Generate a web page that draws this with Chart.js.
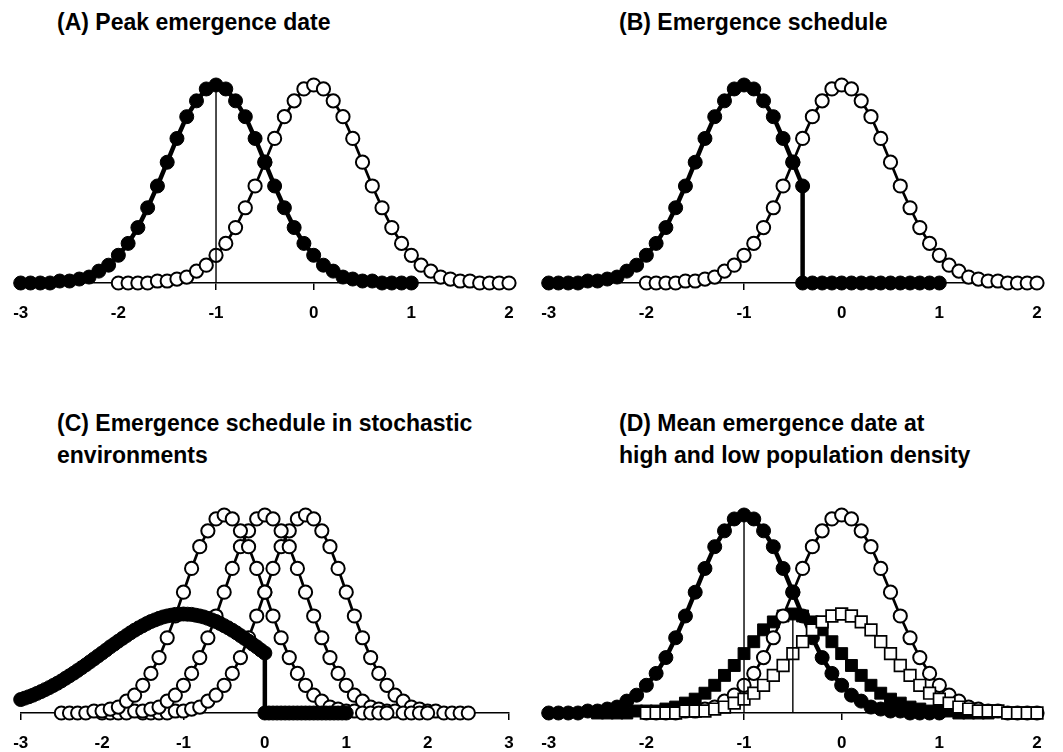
<!DOCTYPE html>
<html lang="en">
<head>
<meta charset="UTF-8">
<title>Emergence dates</title>
<script src="https://cdn.jsdelivr.net/npm/chart.js@4.4.1/dist/chart.umd.min.js"></script>
<style>
  body { margin: 0; background: #fff; font-family: "Liberation Sans", Arial, sans-serif; }
  #fig { position: relative; width: 1063px; height: 752px; overflow: hidden; }
  .panel { position: absolute; }
  .title { position: absolute; font-weight: bold; font-size: 23px; line-height: 31.5px; color: #000; white-space: nowrap; }
</style>
</head>
<body>
<div id="fig">
  <div class="title" style="left:57px; top:7px;">(A) Peak emergence date</div>
  <div class="title" style="left:619px; top:7px;">(B) Emergence schedule</div>
  <div class="title" style="left:57px; top:408px;">(C) Emergence schedule in stochastic<br>environments</div>
  <div class="title" style="left:619px; top:408px;">(D) Mean emergence date at<br>high and low population density</div>
  <canvas id="chartA" class="panel" width="531" height="320" style="left:0; top:40px;"></canvas>
  <canvas id="chartB" class="panel" width="531" height="320" style="left:528px; top:40px;"></canvas>
  <canvas id="chartC" class="panel" width="531" height="320" style="left:0; top:470px;"></canvas>
  <canvas id="chartD" class="panel" width="531" height="320" style="left:528px; top:470px;"></canvas>
</div>
<script>
// emergence day (relative), 0.1 steps
const daysM3to1 = [-3, -2.9, -2.8, -2.7, -2.6, -2.5, -2.4, -2.3, -2.2, -2.1, -2, -1.9, -1.8, -1.7, -1.6, -1.5, -1.4, -1.3, -1.2, -1.1,
                   -1, -0.9, -0.8, -0.7, -0.6, -0.5, -0.4, -0.3, -0.2, -0.1, 0, 0.1, 0.2, 0.3, 0.4, 0.5, 0.6, 0.7, 0.8, 0.9, 1];
const daysM2to2 = [-2, -1.9, -1.8, -1.7, -1.6, -1.5, -1.4, -1.3, -1.2, -1.1, -1, -0.9, -0.8, -0.7, -0.6, -0.5, -0.4, -0.3, -0.2, -0.1,
                   0, 0.1, 0.2, 0.3, 0.4, 0.5, 0.6, 0.7, 0.8, 0.9, 1, 1.1, 1.2, 1.3, 1.4, 1.5, 1.6, 1.7, 1.8, 1.9, 2];
const daysM25to15 = [-2.5, -2.4, -2.3, -2.2, -2.1, -2, -1.9, -1.8, -1.7, -1.6, -1.5, -1.4, -1.3, -1.2, -1.1, -1, -0.9, -0.8, -0.7, -0.6,
                     -0.5, -0.4, -0.3, -0.2, -0.1, 0, 0.1, 0.2, 0.3, 0.4, 0.5, 0.6, 0.7, 0.8, 0.9, 1, 1.1, 1.2, 1.3, 1.4, 1.5];
const daysM15to25 = [-1.5, -1.4, -1.3, -1.2, -1.1, -1, -0.9, -0.8, -0.7, -0.6, -0.5, -0.4, -0.3, -0.2, -0.1, 0, 0.1, 0.2, 0.3, 0.4,
                     0.5, 0.6, 0.7, 0.8, 0.9, 1, 1.1, 1.2, 1.3, 1.4, 1.5, 1.6, 1.7, 1.8, 1.9, 2, 2.1, 2.2, 2.3, 2.4, 2.5];
// schedule cut at -0.4 (panel B): the cut day appears twice
const daysCutB = [-3, -2.9, -2.8, -2.7, -2.6, -2.5, -2.4, -2.3, -2.2, -2.1, -2, -1.9, -1.8, -1.7, -1.6, -1.5, -1.4, -1.3, -1.2, -1.1,
                  -1, -0.9, -0.8, -0.7, -0.6, -0.5, -0.4,
                  -0.4, -0.3, -0.2, -0.1, 0, 0.1, 0.2, 0.3, 0.4, 0.5, 0.6, 0.7, 0.8, 0.9, 1];
// panel C's wide schedule is sampled at 0.05, cut at 0
const daysCutC = [-3, -2.95, -2.9, -2.85, -2.8, -2.75, -2.7, -2.65, -2.6, -2.55, -2.5, -2.45, -2.4, -2.35, -2.3, -2.25, -2.2, -2.15, -2.1, -2.05,
                  -2, -1.95, -1.9, -1.85, -1.8, -1.75, -1.7, -1.65, -1.6, -1.55, -1.5, -1.45, -1.4, -1.35, -1.3, -1.25, -1.2, -1.15, -1.1, -1.05,
                  -1, -0.95, -0.9, -0.85, -0.8, -0.75, -0.7, -0.65, -0.6, -0.55, -0.5, -0.45, -0.4, -0.35, -0.3, -0.25, -0.2, -0.15, -0.1, -0.05, 0,
                  0, 0.05, 0.1, 0.15, 0.2, 0.25, 0.3, 0.35, 0.4, 0.45, 0.5, 0.55, 0.6, 0.65, 0.7, 0.75, 0.8, 0.85, 0.9, 0.95, 1];

// relative emergence (peak = 1)
const emergeEarly = [0, 0, 0, 0, 0.01, 0.01, 0.02, 0.03, 0.06, 0.09, 0.14, 0.20, 0.28, 0.38, 0.49, 0.61, 0.73, 0.84, 0.92, 0.98,
                     1.00, 0.98, 0.92, 0.84, 0.73, 0.61, 0.49, 0.38, 0.28, 0.20, 0.14, 0.09, 0.06, 0.03, 0.02, 0.01, 0.01, 0, 0, 0, 0];
const emergeLate  = [0, 0, 0, 0, 0.01, 0.01, 0.02, 0.03, 0.06, 0.09, 0.14, 0.20, 0.28, 0.38, 0.49, 0.61, 0.73, 0.84, 0.92, 0.98,
                     1.00, 0.98, 0.92, 0.84, 0.73, 0.61, 0.49, 0.38, 0.28, 0.20, 0.14, 0.09, 0.06, 0.03, 0.02, 0.01, 0.01, 0, 0, 0, 0];
const emergeCutB  = [0, 0, 0, 0, 0.01, 0.01, 0.02, 0.03, 0.06, 0.09, 0.14, 0.20, 0.28, 0.38, 0.49, 0.61, 0.73, 0.84, 0.92, 0.98,
                     1.00, 0.98, 0.92, 0.84, 0.73, 0.61, 0.49,
                     0, 0, 0, 0, 0, 0, 0, 0, 0, 0, 0, 0, 0, 0, 0];
const emergeCutC  = [0.068, 0.075, 0.082, 0.090, 0.099, 0.108, 0.118, 0.128, 0.139, 0.150, 0.162, 0.175, 0.188, 0.201, 0.215, 0.229, 0.243, 0.258, 0.273, 0.288,
                     0.303, 0.318, 0.334, 0.348, 0.363, 0.377, 0.391, 0.405, 0.418, 0.430, 0.441, 0.452, 0.462, 0.470, 0.478, 0.485, 0.490, 0.494, 0.498, 0.499,
                     0.500, 0.499, 0.498, 0.494, 0.490, 0.485, 0.478, 0.470, 0.462, 0.452, 0.441, 0.430, 0.418, 0.405, 0.391, 0.377, 0.363, 0.348, 0.334, 0.318, 0.303,
                     0, 0, 0, 0, 0, 0, 0, 0, 0, 0, 0, 0, 0, 0, 0, 0, 0, 0, 0, 0, 0];
const emergeHighDensity = [0, 0, 0, 0, 0.01, 0.01, 0.01, 0.02, 0.03, 0.05, 0.07, 0.10, 0.14, 0.19, 0.24, 0.30, 0.36, 0.42, 0.46, 0.49,
                           0.50, 0.49, 0.46, 0.42, 0.36, 0.30, 0.24, 0.19, 0.14, 0.10, 0.07, 0.05, 0.03, 0.02, 0.01, 0.01, 0.01, 0, 0, 0, 0];

// mean-date markers: [day, top]
const meanEarly = [-1, 1.0];
const meanHigh = [-0.5, 0.5];

function pts(xs, ys) {
    return xs.map((x, i) => ({ x: x, y: ys[i] }));
}

const filledCircle = { pointStyle: 'circle', pointRadius: 7, pointBackgroundColor: '#000', pointBorderColor: '#000',
                       pointBorderWidth: 1, borderColor: '#000', borderWidth: 4.5 };
const openCircle = { pointStyle: 'circle', pointRadius: 6.6, pointBackgroundColor: '#fff', pointBorderColor: '#000',
                     pointBorderWidth: 2, borderColor: '#000', borderWidth: 2.7 };
const filledSquare = { pointStyle: 'rect', pointRadius: 8.4, pointBackgroundColor: '#000', pointBorderColor: '#000',
                       pointBorderWidth: 1, borderColor: '#000', borderWidth: 2 };
const openSquare = { pointStyle: 'rect', pointRadius: 8.2, pointBackgroundColor: '#fff', pointBorderColor: '#000',
                     pointBorderWidth: 1.7, borderColor: '#000', borderWidth: 1.5 };

function series(style, data, order) {
    return Object.assign({ data: data, showLine: true, clip: false, order: order }, style);
}

function meanLine(m, order) {
    return { data: [{ x: m[0], y: 0 }, { x: m[0], y: m[1] }], showLine: true, clip: false, order: order,
             pointRadius: 0, borderColor: '#000', borderWidth: 1.4 };
}

function makePanel(id, xmax, datasets) {
    new Chart(document.getElementById(id), {
        type: 'scatter',
        data: { datasets: datasets },
        options: {
            responsive: false,
            animation: false,
            events: [],
            layout: { padding: { left: 20.7, right: 22, top: 45, bottom: 37 } },
            plugins: { legend: { display: false }, tooltip: { enabled: false } },
            scales: {
                x: {
                    type: 'linear', min: -3, max: xmax,
                    afterFit: function(axis) { axis.height = 40; },
                    border: { display: true, color: '#000', width: 1.5 },
                    grid: { display: true, drawOnChartArea: false, drawTicks: true, tickLength: 7, color: '#000', lineWidth: 1.5 },
                    ticks: { stepSize: 1, color: '#000', padding: 13,
                             font: { family: '"Liberation Sans", Arial, sans-serif', size: 17, weight: 'bold' } }
                },
                y: { display: false, min: 0, max: 1 }
            }
        }
    });
}

makePanel('chartA', 2, [
    meanLine(meanEarly, 0),
    series(filledCircle, pts(daysM3to1, emergeEarly), 1),
    series(openCircle, pts(daysM2to2, emergeLate), 2)
]);

makePanel('chartB', 2, [
    series(filledCircle, pts(daysCutB, emergeCutB), 1),
    series(openCircle, pts(daysM2to2, emergeLate), 2)
]);

makePanel('chartC', 3, [
    series(filledCircle, pts(daysCutC, emergeCutC), 1),
    series(openCircle, pts(daysM25to15, emergeLate), 2),
    series(openCircle, pts(daysM2to2, emergeLate), 3),
    series(openCircle, pts(daysM15to25, emergeLate), 4)
]);

makePanel('chartD', 2, [
    meanLine(meanEarly, 0),
    meanLine(meanHigh, 0),
    series(openSquare, pts(daysM2to2, emergeHighDensity), 1),
    series(filledCircle, pts(daysM3to1, emergeEarly), 2),
    series(openCircle, pts(daysM2to2, emergeLate), 3),
    series(filledSquare, pts(daysM25to15, emergeHighDensity), 4)
]);
</script>
</body>
</html>
